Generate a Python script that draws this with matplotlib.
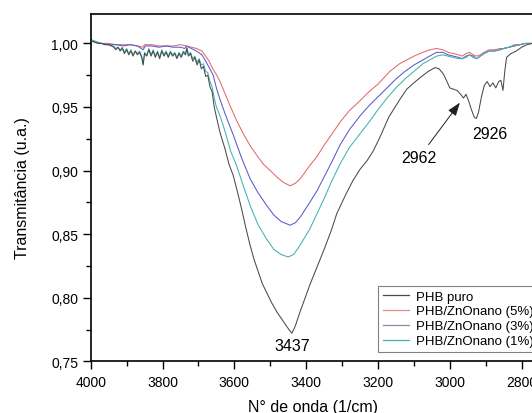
import numpy as np
import matplotlib
matplotlib.use("Agg")
import matplotlib.pyplot as plt
from matplotlib.ticker import MultipleLocator, FuncFormatter
from matplotlib.lines import Line2D

plt.rcParams['font.family'] = ['Liberation Sans', 'DejaVu Sans']

# ---------------- data (wavenumber, transmittance) ----------------
phb_puro = [
    (4000, 1.002), (3990, 1.001), (3980, 1.000), (3970, 1.000), (3960, 0.999), (3950, 0.999),
    (3942, 0.998), (3936, 0.997), (3930, 0.995), (3924, 0.997), (3918, 0.994), (3912, 0.996),
    (3906, 0.992), (3900, 0.995), (3894, 0.991), (3888, 0.994), (3882, 0.990), (3876, 0.994),
    (3870, 0.991), (3864, 0.993), (3858, 0.989), (3854, 0.983), (3850, 0.992), (3844, 0.990),
    (3838, 0.995), (3832, 0.990), (3826, 0.994), (3820, 0.989), (3814, 0.993), (3808, 0.988),
    (3802, 0.994), (3796, 0.990), (3790, 0.993), (3784, 0.989), (3778, 0.993), (3772, 0.990),
    (3766, 0.992), (3760, 0.988), (3754, 0.992), (3748, 0.989), (3742, 0.993), (3736, 0.991),
    (3732, 0.996), (3728, 0.990), (3722, 0.992), (3716, 0.986), (3710, 0.989), (3704, 0.983),
    (3698, 0.987), (3692, 0.980), (3686, 0.982), (3680, 0.974), (3674, 0.975), (3668, 0.966),
    (3662, 0.962), (3656, 0.950), (3649, 0.941), (3640, 0.930), (3626, 0.917), (3615, 0.905),
    (3603, 0.896), (3592, 0.884), (3580, 0.870), (3568, 0.855), (3556, 0.841), (3545, 0.830),
    (3533, 0.820), (3522, 0.811), (3510, 0.804), (3496, 0.796), (3482, 0.789), (3470, 0.784),
    (3458, 0.779), (3448, 0.775), (3440, 0.772), (3430, 0.778), (3417, 0.789), (3404, 0.799),
    (3390, 0.810), (3370, 0.824), (3350, 0.838), (3330, 0.853), (3315, 0.866), (3290, 0.881),
    (3270, 0.892), (3250, 0.901), (3230, 0.908), (3214, 0.915), (3195, 0.926), (3170, 0.942),
    (3139, 0.956), (3120, 0.964), (3100, 0.969), (3083, 0.973), (3060, 0.978), (3041, 0.981),
    (3030, 0.980), (3018, 0.976), (3008, 0.970), (3000, 0.965), (2990, 0.964), (2980, 0.963),
    (2970, 0.960), (2962, 0.957), (2955, 0.960), (2948, 0.955), (2940, 0.948), (2932, 0.942),
    (2926, 0.941), (2920, 0.946), (2912, 0.958), (2904, 0.967), (2896, 0.970), (2888, 0.966),
    (2880, 0.969), (2872, 0.965), (2864, 0.970), (2858, 0.971), (2852, 0.963), (2847, 0.978),
    (2842, 0.989), (2830, 0.992), (2815, 0.994), (2800, 0.997), (2785, 0.999), (2770, 1.000),
]

zno_5 = [
    (4000, 1.002), (3985, 1.001), (3970, 1.000), (3950, 1.000), (3930, 0.999), (3910, 0.999),
    (3890, 0.999), (3870, 0.998), (3854, 0.997), (3850, 0.999), (3830, 0.999), (3810, 0.998),
    (3790, 0.998), (3770, 0.998), (3751, 0.999), (3735, 0.998), (3720, 0.997), (3705, 0.996),
    (3690, 0.994), (3680, 0.990), (3670, 0.986), (3660, 0.980), (3649, 0.975), (3640, 0.970),
    (3631, 0.964), (3612, 0.951), (3595, 0.940), (3575, 0.929), (3555, 0.919), (3535, 0.911),
    (3519, 0.905), (3500, 0.900), (3482, 0.895), (3465, 0.891), (3445, 0.888), (3430, 0.890),
    (3417, 0.8935), (3405, 0.898), (3390, 0.904), (3370, 0.911), (3350, 0.920), (3330, 0.928),
    (3306, 0.938), (3280, 0.947), (3250, 0.955), (3225, 0.962), (3200, 0.968), (3167, 0.978),
    (3140, 0.984), (3120, 0.987), (3100, 0.990), (3075, 0.993), (3055, 0.995), (3037, 0.996),
    (3020, 0.995), (3005, 0.993), (2990, 0.992), (2975, 0.991), (2965, 0.990), (2955, 0.992),
    (2945, 0.993), (2935, 0.991), (2925, 0.990), (2915, 0.991), (2905, 0.993), (2890, 0.995),
    (2875, 0.995), (2860, 0.996), (2850, 0.996), (2835, 0.997), (2820, 0.999), (2805, 0.999),
    (2790, 1.000), (2770, 1.000),
]

zno_3 = [
    (4000, 1.003), (3985, 1.001), (3970, 1.000), (3950, 0.999), (3930, 0.999), (3910, 0.998),
    (3890, 0.999), (3870, 0.998), (3854, 0.995), (3848, 0.998), (3830, 0.998), (3810, 0.997),
    (3790, 0.998), (3770, 0.997), (3750, 0.997), (3738, 0.996), (3733, 0.998), (3720, 0.996),
    (3705, 0.994), (3690, 0.991), (3680, 0.986), (3670, 0.981), (3659, 0.975), (3650, 0.965),
    (3640, 0.956), (3625, 0.944), (3603, 0.928), (3580, 0.910), (3556, 0.8935), (3535, 0.883),
    (3510, 0.8725), (3490, 0.865), (3470, 0.860), (3445, 0.857), (3430, 0.859), (3415, 0.864),
    (3390, 0.875), (3370, 0.884), (3350, 0.895), (3330, 0.906), (3306, 0.920), (3280, 0.932),
    (3250, 0.943), (3225, 0.951), (3200, 0.958), (3175, 0.965), (3150, 0.972), (3125, 0.978),
    (3100, 0.983), (3075, 0.987), (3050, 0.991), (3037, 0.993), (3020, 0.993), (3005, 0.991),
    (2990, 0.990), (2975, 0.989), (2965, 0.988), (2955, 0.990), (2945, 0.991), (2935, 0.990),
    (2925, 0.988), (2915, 0.990), (2905, 0.992), (2890, 0.994), (2875, 0.994), (2860, 0.995),
    (2850, 0.996), (2835, 0.997), (2820, 0.998), (2805, 0.999), (2790, 1.000), (2770, 1.000),
]

zno_1 = [
    (4000, 1.003), (3990, 1.002), (3980, 1.001), (3970, 1.000), (3960, 0.999), (3950, 0.999),
    (3942, 0.998), (3936, 0.998), (3930, 0.996), (3924, 0.997), (3918, 0.995), (3912, 0.997),
    (3906, 0.993), (3900, 0.996), (3894, 0.992), (3888, 0.995), (3882, 0.991), (3876, 0.994),
    (3870, 0.992), (3864, 0.994), (3858, 0.990), (3854, 0.984), (3850, 0.993), (3844, 0.991),
    (3838, 0.996), (3832, 0.991), (3826, 0.995), (3820, 0.990), (3814, 0.994), (3808, 0.989),
    (3802, 0.995), (3796, 0.991), (3790, 0.994), (3784, 0.990), (3778, 0.994), (3772, 0.991),
    (3766, 0.993), (3760, 0.989), (3754, 0.993), (3748, 0.990), (3742, 0.994), (3736, 0.992),
    (3732, 0.997), (3728, 0.991), (3722, 0.993), (3716, 0.988), (3710, 0.990), (3704, 0.985),
    (3698, 0.988), (3692, 0.983), (3686, 0.984), (3680, 0.978), (3674, 0.977), (3668, 0.970),
    (3662, 0.966), (3656, 0.957), (3650, 0.950), (3640, 0.943), (3631, 0.9355), (3620, 0.925),
    (3610, 0.915), (3594, 0.904), (3575, 0.888), (3556, 0.8725), (3535, 0.858), (3510, 0.846),
    (3490, 0.838), (3470, 0.834), (3450, 0.832), (3435, 0.834), (3420, 0.840), (3405, 0.847),
    (3390, 0.854), (3370, 0.866), (3350, 0.878), (3330, 0.891), (3306, 0.905), (3280, 0.918),
    (3250, 0.929), (3225, 0.938), (3200, 0.948), (3175, 0.957), (3150, 0.965), (3125, 0.972),
    (3100, 0.978), (3075, 0.984), (3050, 0.988), (3037, 0.990), (3020, 0.991), (3005, 0.990),
    (2990, 0.989), (2975, 0.988), (2965, 0.988), (2955, 0.989), (2945, 0.991), (2935, 0.989),
    (2925, 0.988), (2915, 0.990), (2905, 0.992), (2890, 0.994), (2875, 0.994), (2860, 0.995),
    (2850, 0.996), (2835, 0.997), (2820, 0.998), (2805, 0.999), (2790, 1.000), (2770, 1.000),
]

series_labels = ["PHB puro", "PHB/ZnOnano (5%)", "PHB/ZnOnano (3%)", "PHB/ZnOnano (1%)"]
series_data = [phb_puro, zno_5, zno_3, zno_1]
line_colors = ["#4a4a4a", "#e06a6a", "#5a5ac8", "#45b0b0"]
legend_colors = ["#4a4a4a", "#e88a8a", "#8a8aa8", "#45b0b0"]

x_ticks = [4000, 3800, 3600, 3400, 3200, 3000, 2800]
y_ticks = [0.75, 0.80, 0.85, 0.90, 0.95, 1.00]

peak_labels = ["3437", "2926", "2962"]
peak_text_pos = [(3440, 0.7628), (2888, 0.929), (3085, 0.9106)]
arrow_tip = (2972, 0.9534)

# ---------------- figure ----------------
fig = plt.figure(figsize=(5.32, 4.14), dpi=100)
ax = fig.add_axes([0.1705, 0.1249, 0.8357, 0.8400])

order = [1, 2, 3, 0]
for i in order:
    arr = np.array(series_data[i]).T
    ax.plot(arr[0], arr[1], color=line_colors[i], lw=0.75, zorder=2 + (i == 0))

ax.set_xlim(4000, 2762)
ax.set_ylim(0.75, 1.0235)

ax.set_xticks(x_ticks)
ax.set_yticks(y_ticks)
ax.xaxis.set_minor_locator(MultipleLocator(100))
ax.yaxis.set_minor_locator(MultipleLocator(0.025))
ax.yaxis.set_major_formatter(FuncFormatter(lambda v, p: f"{v:.2f}".replace('.', ',')))
ax.tick_params(which='major', direction='out', length=6, width=1.0, labelsize=10, pad=3)
ax.tick_params(which='minor', direction='out', length=3.5, width=1.0)
ax.tick_params(axis='x', which='major', pad=4)
for s in ax.spines.values():
    s.set_linewidth(1.2)

ax.set_xlabel("N° de onda (1/cm)", fontsize=11.5, labelpad=7)
ax.set_ylabel("Transmitância (u.a.)", fontsize=11.5, labelpad=15)

# annotations
ax.text(*peak_text_pos[0], peak_labels[0], ha='center', va='center', fontsize=11.5)
ax.text(*peak_text_pos[1], peak_labels[1], ha='center', va='center', fontsize=11.5)
ax.annotate(peak_labels[2], xy=arrow_tip, xytext=peak_text_pos[2],
            ha='center', va='center', fontsize=11.5,
            arrowprops=dict(arrowstyle='-|>,head_length=0.7,head_width=0.25',
                            color='#202020', lw=0.7, shrinkA=2, shrinkB=0))

# legend
handles = [Line2D([], [], color=legend_colors[i], lw=0.9) for i in range(4)]
leg = fig.legend(handles, series_labels, loc='upper left',
                 bbox_to_anchor=(378.3 / 532, 1 - 286.7 / 414),
                 borderaxespad=0, fontsize=9.5, frameon=True, fancybox=False,
                 edgecolor='#808080', framealpha=1, handlelength=2.0,
                 handletextpad=0.5, labelspacing=0.2, borderpad=0.35)
leg.get_frame().set_linewidth(0.8)

fig.savefig("out.png", dpi=100)
